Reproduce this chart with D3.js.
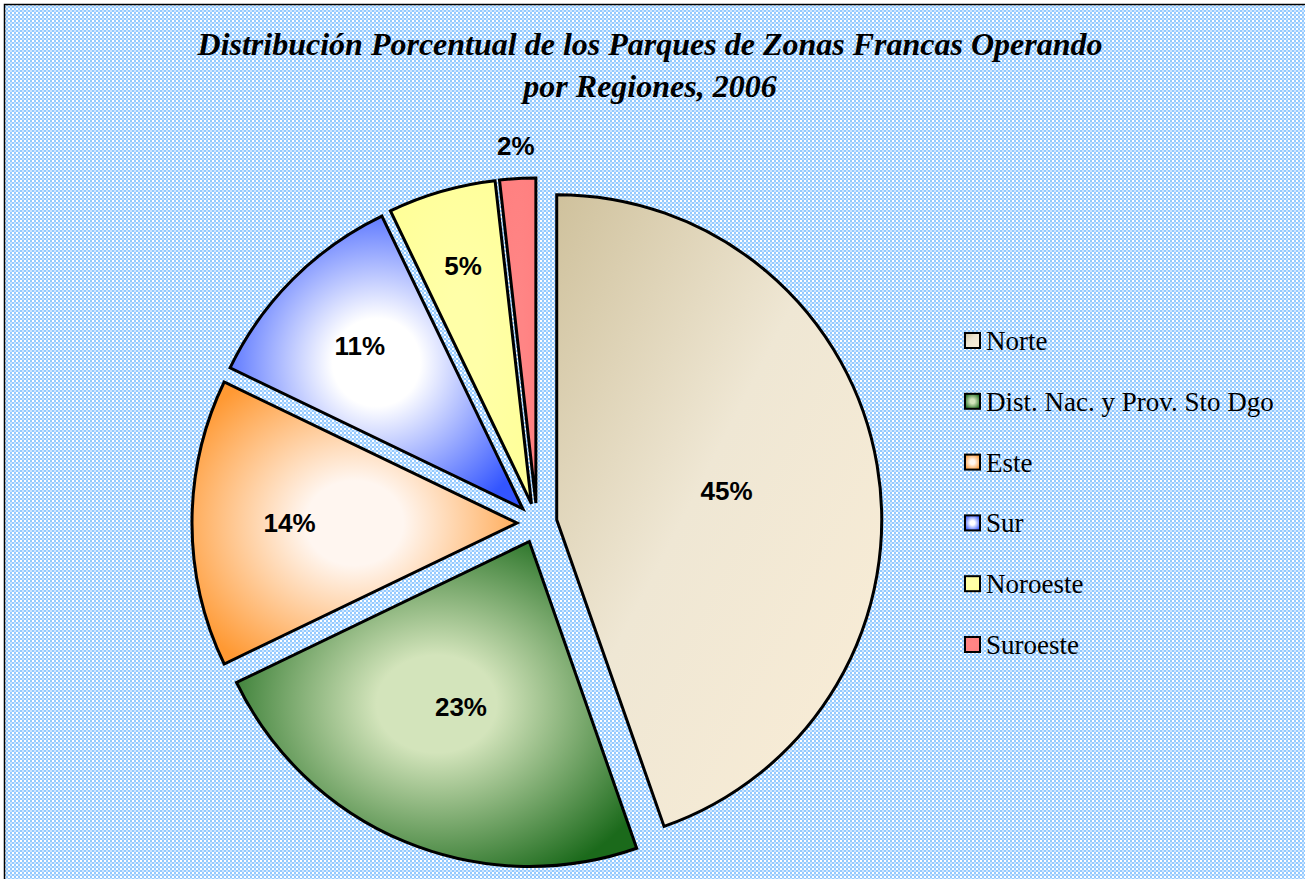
<!DOCTYPE html>
<html>
<head>
<meta charset="utf-8">
<script src="https://cdn.jsdelivr.net/npm/d3@7"></script>
<style>
  html, body { margin: 0; padding: 0; background: #fff; }
  svg { display: block; }
</style>
</head>
<body>
<div id="chart"></div>
<script>
// regions and number of parks (labels are the rounded shares)
var regions = ["Norte", "Dist. Nac. y Prov. Sto Dgo", "Este", "Sur", "Noroeste", "Suroeste"];
var parks = [25, 13, 8, 6, 3, 1];
var titleLines = ["Distribución Porcentual de los Parques de Zonas Francas Operando", "por Regiones, 2006"];

// slice fills: edge colour and centre colour of each gradient
var edgeColors = ["#cfc19c", "#1b6a1b", "#ff9933", "#3355ff", "#ffff99", "#ff8080"];
var centerColors = ["#faedd6", "#d3e4bb", "#fff6f0", "#ffffff", "#ffffa8", "#ff8585"];
// where each percentage sits, as a fraction of the radius
var labelRadius = [0.53, 0.55, 0.70, 0.71, 0.76, 1.10];

var width = 1305, height = 879;
var cx = 537, cy = 523, radius = 325, explode = 20;

var svg = d3.select("#chart")
  .append("svg")
    .attr("width", width)
    .attr("height", height);

var defs = svg.append("defs");

// checker background
var pat = defs.append("pattern")
    .attr("id", "checker")
    .attr("patternUnits", "userSpaceOnUse")
    .attr("width", 4).attr("height", 4);
pat.append("rect").attr("width", 4).attr("height", 4).attr("fill", "#94caff");
pat.append("rect").attr("x", 0).attr("y", 0).attr("width", 2).attr("height", 2).attr("fill", "#ffffff");
pat.append("rect").attr("x", 2).attr("y", 2).attr("width", 2).attr("height", 2).attr("fill", "#cde6ff");

// gradients
regions.forEach(function(r, i) {
  var g;
  if (i == 0) {
    g = defs.append("linearGradient")
      .attr("id", "grad" + i)
      .attr("x1", 0).attr("y1", 0).attr("x2", 1).attr("y2", 1);
    g.append("stop").attr("offset", 0).attr("stop-color", edgeColors[i]);
    g.append("stop").attr("offset", 0.45).attr("stop-color", "#efe7d4");
    g.append("stop").attr("offset", 1).attr("stop-color", centerColors[i]);
  } else {
    g = defs.append("radialGradient")
      .attr("id", "grad" + i)
      .attr("cx", 0.5).attr("cy", 0.5).attr("r", 0.6);
    g.append("stop").attr("offset", 0).attr("stop-color", centerColors[i]);
    g.append("stop").attr("offset", 0.25).attr("stop-color", centerColors[i]);
    g.append("stop").attr("offset", 1).attr("stop-color", edgeColors[i]);
  }
});

svg.append("rect")
  .attr("x", 4.5).attr("y", 4.5)
  .attr("width", width + 20).attr("height", height + 20)
  .attr("fill", "url(#checker)")
  .attr("stroke", "#000")
  .attr("stroke-width", 1.5);

// title
svg.selectAll(".title")
  .data(titleLines)
  .enter()
  .append("text")
    .attr("class", "title")
    .attr("x", 650)
    .attr("y", function(d, i) { return 55 + i * 42; })
    .attr("text-anchor", "middle")
    .attr("font-family", "'Liberation Serif', 'Times New Roman', serif")
    .attr("font-style", "italic")
    .attr("font-weight", "bold")
    .attr("font-size", 32)
    .text(function(d) { return d; });

// pie
var total = d3.sum(parks);
var pie = d3.pie().sort(null).value(function(d) { return d; });
var arc = d3.arc().innerRadius(0).outerRadius(radius);
var arcs = pie(parks);

var g = svg.append("g")
  .attr("transform", "translate(" + cx + "," + cy + ")");

function offset(d, k) {
  var a = (d.startAngle + d.endAngle) / 2;
  return [Math.sin(a) * k, -Math.cos(a) * k];
}

g.selectAll("path.slice")
  .data(arcs)
  .enter()
  .append("path")
    .attr("class", "slice")
    .attr("transform", function(d) { var o = offset(d, explode); return "translate(" + o[0] + "," + o[1] + ")"; })
    .attr("d", arc)
    .attr("fill", function(d, i) { return "url(#grad" + i + ")"; })
    .attr("stroke", "#000")
    .attr("stroke-width", 3)
    .attr("stroke-linejoin", "miter");

g.selectAll("text.pct")
  .data(arcs)
  .enter()
  .append("text")
    .attr("class", "pct")
    .attr("x", function(d, i) { return offset(d, explode)[0] + offset(d, radius * labelRadius[i])[0]; })
    .attr("y", function(d, i) { return offset(d, explode)[1] + offset(d, radius * labelRadius[i])[1]; })
    .attr("text-anchor", "middle")
    .attr("dominant-baseline", "central")
    .attr("font-family", "'Liberation Sans', Arial, sans-serif")
    .attr("font-weight", "bold")
    .attr("font-size", 26)
    .text(function(d) { return Math.round(d.value / total * 100) + "%"; });

// legend
var ly = d3.scalePoint().domain(regions).range([341, 645]);

var leg = svg.selectAll(".legend")
  .data(regions)
  .enter()
  .append("g")
    .attr("class", "legend")
    .attr("transform", function(d) { return "translate(964," + ly(d) + ")"; });

leg.append("rect")
  .attr("x", 1).attr("y", -8)
  .attr("width", 15).attr("height", 15)
  .attr("fill", function(d, i) { return "url(#grad" + i + ")"; })
  .attr("stroke", "#000")
  .attr("stroke-width", 2);

leg.append("text")
  .attr("x", 22)
  .attr("y", 0)
  .attr("dominant-baseline", "central")
  .attr("font-family", "'Liberation Serif', 'Times New Roman', serif")
  .attr("font-size", 27)
  .text(function(d) { return d; });
</script>
</body>
</html>
